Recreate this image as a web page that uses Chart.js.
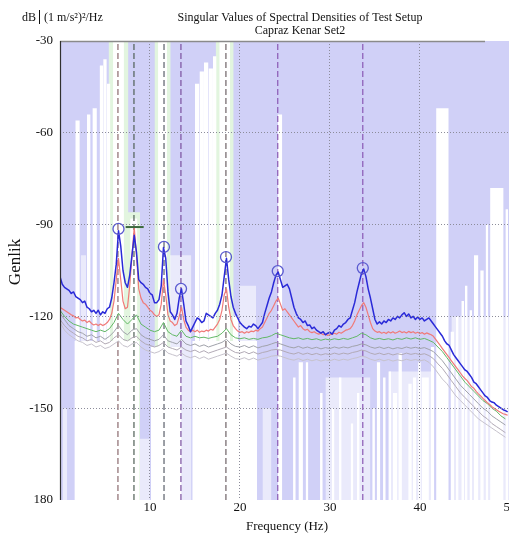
<!DOCTYPE html>
<html>
<head>
<meta charset="utf-8">
<title>Singular Values of Spectral Densities of Test Setup</title>
<script src="https://cdn.jsdelivr.net/npm/chart.js@4.4.1/dist/chart.umd.min.js"></script>
<style>
  html, body { margin: 0; padding: 0; background: #ffffff; }
  #wrap { width: 509px; height: 536px; }
</style>
</head>
<body>
<div id="wrap"><canvas id="svChart" width="509" height="536"></canvas></div>
<script>
// Frequency grids (Hz)
const DF_FINE = 0.25;
const DF_COARSE = 0.5;
const X_TICKS = [10, 20, 30, 40, 50];
const Y_TICKS = [-30, -60, -90, -120, -150, -180];

// Singular value 1 (blue), 0.25 Hz steps, dB
const SV1 = [
  -107, -109.5, -110.5, -111, -111.5, -112.5, -112, -113.5,
  -114, -114.5, -115.5, -115, -117, -117.5, -118.5, -118,
  -119, -118, -119.5, -118.5, -119, -117.5, -117, -114,
  -109, -103, -92, -97, -105, -109, -110.5, -106.5,
  -100, -93.5, -99, -108, -109, -109.5, -110.5, -111,
  -112.5, -113, -115.5, -115.5, -114.5, -110, -97.5, -101,
  -112, -118.5, -119.5, -121, -119, -114, -111, -116,
  -121.5, -123, -125, -123.5, -122, -120.5, -121, -122,
  -121.5, -119, -119.5, -120, -120.5, -119, -118, -116,
  -113, -107, -101, -108, -113.5, -117, -119, -120.5,
  -122, -122.8, -123.5, -124, -123.2, -123.5, -122.5, -123,
  -124, -123, -122, -119, -116.5, -114, -112, -109,
  -106.5, -105.5, -108, -110.5, -110, -109.5, -111, -114,
  -117, -119, -120.5, -121, -122, -121.5, -123, -122.8,
  -124, -123.5, -124.5, -125, -125.5, -125, -126, -125.5,
  -125.2, -125.8, -124.5, -124, -123, -123.5, -122.5, -122,
  -121, -120.5, -118, -115.5, -112, -109, -106, -104.5,
  -107, -111, -114, -117.5, -121, -122.5, -121.8, -122.5,
  -121.5, -122, -121, -121.5, -120.5, -121, -120, -120.5,
  -119.5, -118.8, -120, -119.2, -120.5, -120, -121, -120.2,
  -121, -120.5, -121.5, -121, -120.5, -121.5, -122.5, -123.5,
  -124.5, -125.5, -126.5, -128, -129, -129.5, -131, -132.5,
  -133.5, -134.5, -135.5, -136.5, -137.5, -138, -139, -140,
  -141.5, -142, -143, -144, -145, -146, -146.5, -147.5,
  -148, -148.2, -149, -149.5, -150, -150.5, -150.8, -151.2
];

// Singular value 2 (red), 0.25 Hz steps, dB
const SV2 = [
  -117, -117.5, -118, -118.5, -119, -119.5, -119.8, -120.5,
  -120.3, -121, -121.5, -121.2, -122, -121.5, -122.3, -122.8,
  -122.5, -123, -122.5, -123, -122.6, -122, -121, -119,
  -115, -108, -101, -108, -115, -117.5, -117, -110,
  -100, -91, -100, -111, -114, -115.5, -116, -117,
  -118, -118.5, -119.5, -120, -119.5, -116, -108, -113,
  -119.5, -121.5, -122, -123, -122.5, -120, -117, -121,
  -123.5, -124.5, -125, -124.5, -125, -124.5, -125.2, -124.8,
  -125, -124.5, -124.8, -124.2, -124.5, -123.5, -122.5, -121,
  -118, -113, -111, -117, -121, -123, -124, -124.8,
  -125.2, -125, -125.5, -125, -125.3, -124.8, -125, -124.5,
  -124.8, -124, -123.5, -122, -120.5, -119, -118, -116.5,
  -115, -114, -116, -118, -117.5, -118.5, -119.5, -120.5,
  -121.5, -122.5, -123.5, -123, -124, -124.5, -124.2, -125,
  -125.3, -125, -125.5, -125.8, -125.5, -126, -125.8, -126.2,
  -126, -125.8, -125.5, -125.8, -125.2, -125.5, -125, -124.5,
  -124.3, -124, -123, -121.5, -119.5, -118, -116.5, -115.5,
  -117, -119.5, -122, -124, -124.8, -125.2, -125, -125.5,
  -125.2, -125.6, -125, -125.4, -125, -125.5, -125.2, -124.8,
  -125.3, -125, -125.4, -124.9, -125.3, -125, -125.5, -125.2,
  -125.6, -125.3, -125.8, -125.4, -125.7, -126, -126.5, -127.5,
  -128.5, -129.5, -130.5, -131.5, -132.5, -133.5, -134.5, -135.5,
  -136.5, -137.5, -138.5, -139.5, -140.3, -141, -142, -143,
  -143.5, -144.5, -145.3, -146, -146.8, -147.5, -148.2, -148.8,
  -149.5, -150, -150.5, -151, -151.4, -151.8, -152, -152.3
];

// Singular values 3..6, 0.5 Hz steps, dB
const SV3 = [
  -118, -120, -121.5, -122.5, -123, -123.5, -124, -124.5, -125, -124.5,
  -125, -124, -122, -119, -121, -122.5, -121, -119.5, -122.5, -123.5,
  -124.5, -125, -124.5, -122, -125, -126, -126.5, -124.5, -126.5, -127,
  -126.5, -127, -126.8, -127.2, -126.8, -126.5, -125.5, -124, -126, -127,
  -127.3, -127, -127.5, -127.2, -127.5, -127, -126.8, -126.3, -125.5, -126,
  -126.5, -127, -127.3, -127, -127.5, -127.2, -127.6, -127.3, -127.8, -127.4,
  -127.7, -127.3, -127.6, -127.2, -127.5, -127, -126.5, -125.5, -126, -127,
  -127.5, -127.2, -127.6, -127.3, -127.7, -127.2, -127.5, -127, -127.4, -127,
  -127.5, -127.2, -127.8, -128.5, -130, -131.5, -133.5, -135.5, -137.5, -139.5,
  -141.5, -143, -144.5, -146, -147.5, -148.5, -150, -151, -152.5, -153.5
];
const SV4 = [
  -119, -121, -123, -124, -125, -125.5, -126.5, -126, -127, -126.5,
  -127.5, -126.5, -125, -123, -125, -126, -124.5, -124, -126, -127,
  -127.5, -128, -127.5, -126, -128, -128.5, -129, -127.5, -129, -129.5,
  -129, -129.8, -129.3, -130, -129.5, -129, -128.5, -127.5, -129, -129.8,
  -130, -129.5, -130.2, -129.6, -130.3, -129.8, -129.5, -129, -128.5, -129,
  -129.5, -130, -130.3, -129.8, -130.4, -130, -130.5, -130.1, -130.6, -130.2,
  -130.5, -130, -130.4, -130, -130.3, -129.8, -129.5, -129, -129.3, -130,
  -130.4, -130, -130.5, -130.1, -130.6, -130.2, -130.5, -130, -130.4, -130.1,
  -130.5, -130.2, -130.8, -131.5, -133, -134.5, -136.5, -138.5, -140.5, -142.5,
  -144, -145.5, -147, -148.5, -150, -151, -152.5, -153.5, -154.5, -155.5
];
const SV5 = [
  -121, -123, -124.5, -125.5, -126.5, -127, -128, -127.5, -128.5, -128,
  -129, -128.5, -127, -126, -127.5, -128, -127, -126.5, -128, -129,
  -129.5, -130, -129.5, -128.5, -130, -130.5, -131, -130, -131, -131.5,
  -131, -131.8, -131.2, -132, -131.5, -131, -130.5, -130, -131, -131.8,
  -132, -131.5, -132.2, -131.6, -132.3, -131.8, -131.5, -131, -130.8, -131,
  -131.5, -132, -132.3, -131.8, -132.4, -132, -132.5, -132.1, -132.6, -132.2,
  -132.5, -132, -132.4, -132, -132.3, -131.8, -131.5, -131, -131.3, -132,
  -132.4, -132, -132.5, -132.1, -132.6, -132.2, -132.5, -132, -132.4, -132.1,
  -132.5, -132.2, -132.8, -133.8, -135.5, -137, -139, -141, -143, -145,
  -146.5, -148, -149.5, -151, -152.5, -153.5, -155, -156, -157, -158
];
const SV6 = [
  -122, -124.5, -126, -127, -128, -128.5, -129.5, -129, -130, -129.5,
  -130.5, -130, -129, -128, -129.5, -130, -129, -128.5, -130, -131,
  -131.5, -132, -131.5, -130.5, -132, -132.5, -133, -132, -133, -133.5,
  -133, -133.8, -133.2, -134, -133.5, -133, -132.5, -132, -133, -133.8,
  -134, -133.5, -134.2, -133.6, -134.3, -133.8, -133.5, -133, -132.8, -133,
  -133.5, -134, -134.3, -133.8, -134.4, -134, -134.5, -134.1, -134.6, -134.2,
  -134.5, -134, -134.4, -134, -134.3, -133.8, -133.5, -133, -133.3, -134,
  -134.4, -134, -134.5, -134.1, -134.6, -134.2, -134.5, -134, -134.4, -134.1,
  -134.5, -134.2, -135, -136.5, -138.5, -140.5, -142, -144, -146, -147.5,
  -149, -150.5, -152, -153.5, -154.5, -155.5, -156.5, -157.5, -158.5, -159.5
];

// Picked peaks (circles) and the marked one (+)
const PEAK_F = [6.5, 11.55, 13.45, 18.45, 24.2, 33.65];
const PEAK_DB = [-91.4, -97.3, -111, -100.6, -105.2, -104.2];
const MARK_F = [7.3, 9.3];
const MARK_DB = -90.8;

// Mode lines (Hz) and their colours
const MODE_F = [6.44, 8.22, 11.56, 13.44, 18.44, 24.2, 33.65];
const MODE_COL = ['#8a6a6e', '#4f5f55', '#5a5f6a', '#7a4f9e', '#6e6266', '#8a58b4', '#8a58b4'];

// Stability background: [from Hz, to Hz, top dB]
const WHITE_STRIPS = [
  [1.6, 8.8, -128], [10.1, 13.5, -130], [14.7, 21.9, -128],
  [1.7, 2.2, -56], [3.0, 3.4, -54], [3.6, 4.1, -52],
  [4.4, 4.8, -38], [4.8, 5.2, -36], [5.2, 5.6, -44],
  [5.9, 7.1, -30], [7.8, 8.6, -88], [10.9, 11.9, -30],
  [15.0, 15.5, -44], [15.5, 16.0, -40], [16.0, 16.5, -37], [16.5, 17.0, -39], [17.0, 17.4, -35],
  [17.7, 18.9, -30], [19.2, 19.8, -120], [24.2, 24.7, -54],
  [25.9, 26.2, -140], [26.5, 27.0, -135], [27.3, 27.6, -135], [28.9, 29.2, -145],
  [30.2, 30.5, -150], [31.0, 31.3, -140], [32.3, 32.6, -155], [33.0, 33.3, -145],
  [34.7, 35.0, -150], [35.2, 35.6, -135], [35.9, 36.2, -140], [36.5, 36.8, -138],
  [37.0, 37.5, -145], [37.6, 38.0, -132], [38.7, 39.1, -142], [39.2, 39.6, -140],
  [39.8, 40.1, -135], [40.2, 41.0, -140], [41.2, 41.6, -130], [41.8, 43.2, -52],
  [43.4, 43.8, -125], [44.0, 44.3, -120], [44.6, 44.9, -115], [45.0, 45.3, -110],
  [45.5, 45.8, -118], [46.0, 46.5, -100], [46.7, 47.1, -105], [47.3, 47.6, -90],
  [47.8, 49.3, -78], [49.5, 49.8, -85]
];
const PALE_STRIPS = [
  [0.3, 0.8, -150], [2.3, 2.9, -100], [8.8, 10.0, -160], [12.2, 14.6, -100],
  [20.0, 21.8, -110], [22.5, 23.5, -150], [29.5, 34.5, -140], [36.5, 41.5, -138],
  [43.5, 49.9, -120]
];
const GREEN_BANDS = [
  [5.4, 7.6, -30], [7.5, 8.9, -86], [10.5, 12.3, -30], [17.3, 19.3, -30]
];

function series(values, step) {
  return values.map((v, i) => ({ x: i * step, y: v }));
}

function curve(label, values, step, color, width, order) {
  return {
    label: label, data: series(values, step), borderColor: color, borderWidth: width,
    pointRadius: 0, fill: false, tension: 0, order: order
  };
}

// one filled dataset per background strip
function stripSets(list, color, order) {
  return list.map(([a, b, top], i) => ({
    label: 'strip' + order + '_' + i,
    data: [{ x: a, y: top }, { x: b, y: top }],
    borderWidth: 0, pointRadius: 0, fill: 'start', backgroundColor: color, order: order
  }));
}

const datasets = [].concat(
  stripSets(GREEN_BANDS, '#e2f5df', 100),
  stripSets(WHITE_STRIPS, '#ffffff', 95),
  stripSets(PALE_STRIPS, 'rgba(255,255,255,0.55)', 94)
);

MODE_F.forEach((f, i) => {
  datasets.push({
    label: 'mode' + i, data: [{ x: f, y: -180 }, { x: f, y: -30 }],
    borderColor: MODE_COL[i], borderWidth: 1.2, borderDash: [6, 3],
    pointRadius: 0, fill: false, order: 80
  });
});

datasets.push(curve('SV6', SV6, DF_COARSE, '#c6c2cc', 1, 66));
datasets.push(curve('SV5', SV5, DF_COARSE, '#b2aab6', 1, 65));
datasets.push(curve('SV4', SV4, DF_COARSE, '#a0a2aa', 1, 64));
datasets.push(curve('SV3', SV3, DF_COARSE, '#62b866', 1, 63));
datasets.push(curve('SV2', SV2, DF_FINE, '#f07a78', 1.2, 62));
datasets.push(curve('SV1', SV1, DF_FINE, '#2a2ad8', 1.5, 61));

datasets.push({
  label: 'peaks', data: PEAK_F.map((f, i) => ({ x: f, y: PEAK_DB[i] })),
  showLine: false, pointRadius: 5.5, pointStyle: 'circle', pointBorderWidth: 1.3,
  pointBorderColor: '#5a5ad0', pointBackgroundColor: 'rgba(0,0,0,0)', order: 10
});
datasets.push({
  label: 'mark', data: MARK_F.map(f => ({ x: f, y: MARK_DB })),
  borderColor: '#3d6b3d', borderWidth: 2, pointRadius: 0, fill: false, order: 9
});

const GRID = '#8c8c9a';
const SERIF = '"Liberation Serif", "Times New Roman", serif';

const decor = {
  id: 'decor',
  beforeDraw(chart) {
    const { ctx, chartArea: a } = chart;
    ctx.save();
    ctx.fillStyle = '#d0d0f7';
    ctx.fillRect(a.left, a.top, a.right - a.left, a.bottom - a.top);
    ctx.restore();
  },
  afterDraw(chart) {
    const { ctx, chartArea: a } = chart;
    ctx.save();
    // frame
    ctx.strokeStyle = '#8a8a8a';
    ctx.lineWidth = 1.5;
    ctx.beginPath();
    ctx.moveTo(a.left, a.top + 0.5);
    ctx.lineTo(485, a.top + 0.5);
    ctx.stroke();
    ctx.strokeStyle = '#303030';
    ctx.lineWidth = 1.2;
    ctx.beginPath();
    ctx.moveTo(a.left + 0.5, a.top);
    ctx.lineTo(a.left + 0.5, a.bottom);
    ctx.stroke();

    ctx.fillStyle = '#111111';
    // title
    ctx.font = '12px ' + SERIF;
    ctx.textAlign = 'center';
    ctx.textBaseline = 'alphabetic';
    ctx.fillText('Singular Values of Spectral Densities of Test Setup', 300, 21);
    ctx.fillText('Capraz Kenar Set2', 300, 34);
    // unit label
    ctx.textAlign = 'left';
    ctx.fillText('dB', 22, 21);
    ctx.fillRect(39, 10, 1, 14);
    ctx.fillText('(1 m/s\u00b2)\u00b2/Hz', 44, 21);
    // x title
    ctx.font = '13px ' + SERIF;
    ctx.textAlign = 'center';
    ctx.fillText('Frequency (Hz)', 287, 530);
    // y title
    ctx.font = '17px ' + SERIF;
    ctx.translate(20, 262);
    ctx.rotate(-Math.PI / 2);
    ctx.fillText('Genlik', 0, 0);
    ctx.restore();
  }
};

new Chart(document.getElementById('svChart').getContext('2d'), {
  type: 'line',
  data: { datasets: datasets },
  options: {
    responsive: false,
    animation: false,
    devicePixelRatio: 1,
    layout: { padding: { top: 41, left: 0, right: 0, bottom: 0 }, autoPadding: false },
    plugins: { legend: { display: false }, tooltip: { enabled: false }, title: { display: false } },
    elements: { line: { borderJoinStyle: 'round' } },
    scales: {
      x: {
        type: 'linear', min: 0, max: 49.9,
        afterFit: (s) => { s.height = 36; s.paddingLeft = 0; s.paddingRight = 0; },
        afterBuildTicks: (s) => { s.ticks = X_TICKS.map(v => ({ value: v })); },
        ticks: { autoSkip: false, maxRotation: 0, padding: 0, color: '#111111',
                 font: { family: SERIF, size: 13 } },
        grid: { color: GRID, lineWidth: 1, drawTicks: false, z: 1 },
        border: { display: false, dash: [1, 2] }
      },
      y: {
        type: 'linear', min: -180, max: -30,
        afterFit: (s) => { s.width = 60; s.paddingTop = 0; s.paddingBottom = 0; },
        afterBuildTicks: (s) => { s.ticks = Y_TICKS.map(v => ({ value: v })); },
        ticks: { padding: 7, color: '#111111', font: { family: SERIF, size: 13 },
                 callback: (v) => (v === -180 ? '180' : String(v)) },
        grid: {
          color: (c) => (c.tick && (c.tick.value === -30 || c.tick.value === -180)) ? 'rgba(0,0,0,0)' : GRID,
          lineWidth: 1, drawTicks: false, z: 1
        },
        border: { display: false, dash: [1, 2] }
      }
    }
  },
  plugins: [decor]
});
</script>
</body>
</html>
